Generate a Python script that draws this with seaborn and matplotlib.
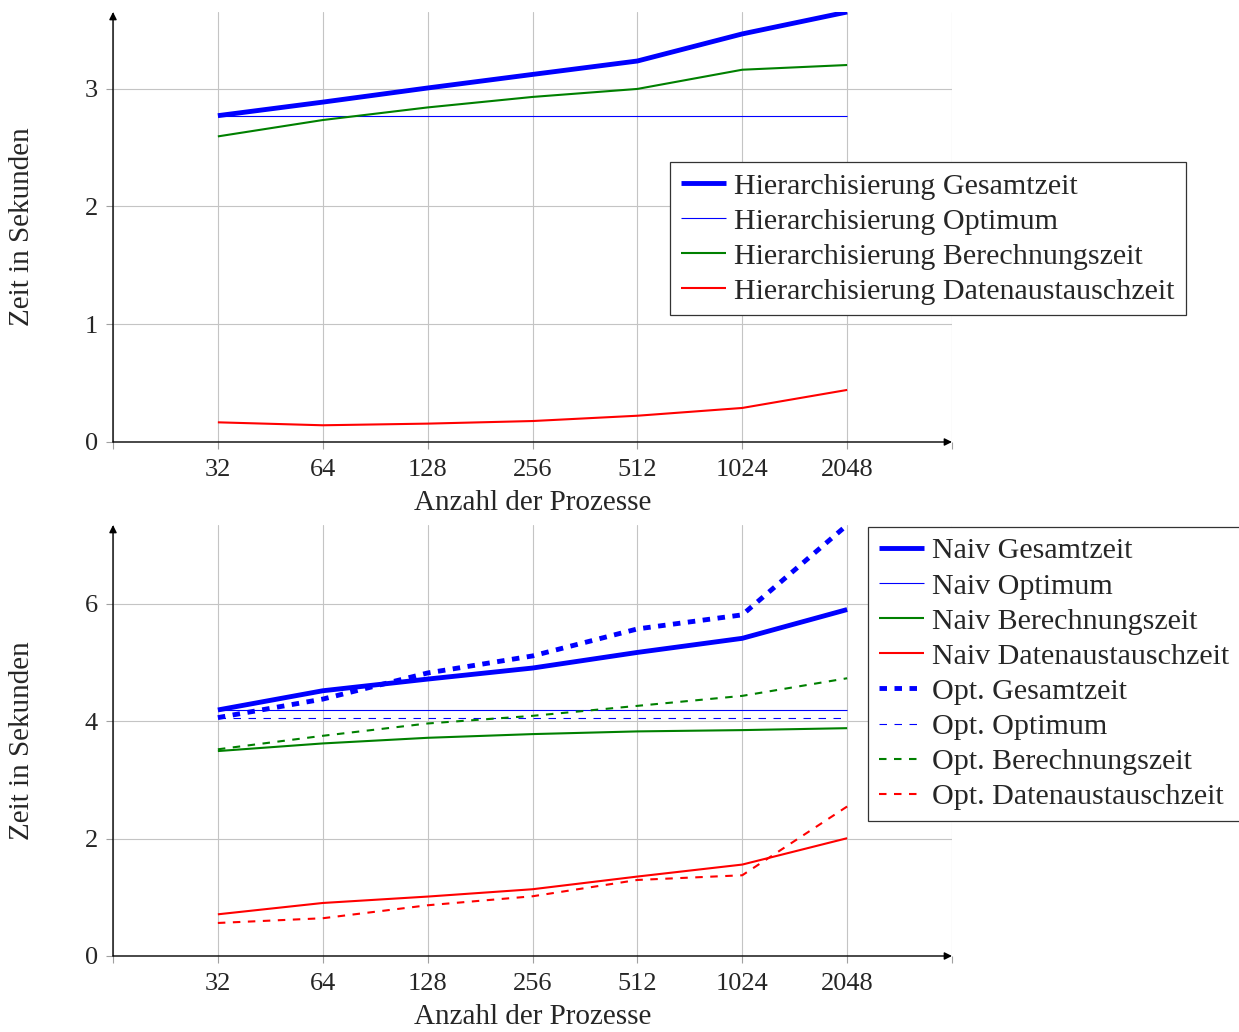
import numpy as np
import pandas as pd
import matplotlib
matplotlib.use("Agg")
import matplotlib.pyplot as plt
import seaborn as sns

# ---- data ----
procs = ["32", "64", "128", "256", "512", "1024", "2048"]

hier_ges = [2.77, 2.885, 3.005, 3.12, 3.234, 3.464, 3.65]
hier_opt = [2.77, 2.77, 2.77, 2.77, 2.77, 2.77, 2.77]
hier_ber = [2.594, 2.733, 2.84, 2.929, 2.997, 3.16, 3.20]
hier_dat = [0.167, 0.142, 0.156, 0.178, 0.223, 0.289, 0.442]

naiv_ges = [4.19, 4.517, 4.716, 4.904, 5.17, 5.41, 5.90]
naiv_opt = [4.19, 4.19, 4.19, 4.19, 4.19, 4.19, 4.19]
naiv_ber = [3.49, 3.62, 3.716, 3.779, 3.825, 3.847, 3.88]
naiv_dat = [0.71, 0.903, 1.012, 1.137, 1.353, 1.557, 2.006]
opt_ges = [4.06, 4.375, 4.82, 5.11, 5.57, 5.81, 7.34]
opt_opt = [4.057, 4.057, 4.057, 4.057, 4.057, 4.057, 4.057]
opt_ber = [3.52, 3.75, 3.96, 4.09, 4.26, 4.43, 4.73]
opt_dat = [0.5625, 0.643, 0.864, 1.017, 1.295, 1.375, 2.546]

top_ticks = [0, 1, 2, 3]
bot_ticks = [0, 2, 4, 6]

# ---- style ----
sns.set_style("white")
plt.rcParams["font.family"] = ["Liberation Serif", "DejaVu Serif"]
plt.rcParams["lines.scale_dashes"] = False
FS_TICK = 19
FS = 21
FS_LEG = 21.6

W, H = 1239, 1032
fig = plt.figure(figsize=(W / 100, H / 100), dpi=100)

def fx(px):
    return px / W

def fy(py):
    return 1 - py / H

ax1 = fig.add_axes([fx(113), fy(442), fx(952) - fx(113), fy(12) - fy(442)])
ax2 = fig.add_axes([fx(113), fy(956), fx(952) - fx(113), fy(525) - fy(956)])

xpos = np.arange(1, len(procs) + 1)

def draw(ax, vals, color, lw, label, dashed=False):
    sns.lineplot(x=xpos, y=vals, ax=ax, color=color, lw=lw, label=label,
                 sort=False, errorbar=None)
    ln = ax.lines[-1]
    ln.set_solid_capstyle("butt")
    if dashed:
        ln.set_dashes((5.4, 5.4))
        ln.set_dash_capstyle("butt")

TH, MD, TN = 3.5, 1.5, 0.8

draw(ax1, hier_ges, "#0000ff", TH, "Hierarchisierung Gesamtzeit")
draw(ax1, hier_opt, "#0000ff", TN, "Hierarchisierung Optimum")
draw(ax1, hier_ber, "#008000", MD, "Hierarchisierung Berechnungszeit")
draw(ax1, hier_dat, "#ff0000", MD, "Hierarchisierung Datenaustauschzeit")

draw(ax2, naiv_ges, "#0000ff", TH, "Naiv Gesamtzeit")
draw(ax2, naiv_opt, "#0000ff", TN, "Naiv Optimum")
draw(ax2, naiv_ber, "#008000", MD, "Naiv Berechnungszeit")
draw(ax2, naiv_dat, "#ff0000", MD, "Naiv Datenaustauschzeit")
draw(ax2, opt_ges, "#0000ff", TH, "Opt. Gesamtzeit", dashed=True)
draw(ax2, opt_opt, "#0000ff", TN, "Opt. Optimum", dashed=True)
draw(ax2, opt_ber, "#008000", MD, "Opt. Berechnungszeit", dashed=True)
draw(ax2, opt_dat, "#ff0000", MD, "Opt. Datenaustauschzeit", dashed=True)

all_top = hier_ges + hier_opt + hier_ber + hier_dat
all_bot = naiv_ges + naiv_opt + naiv_ber + naiv_dat + opt_ges + opt_opt + opt_ber + opt_dat

for ax, yt, ymax in ((ax1, top_ticks, max(all_top)), (ax2, bot_ticks, max(all_bot))):
    ax.set_xlim(0, len(procs) + 1)
    ax.set_ylim(0, ymax)
    ax.set_xticks(np.arange(0, len(procs) + 2))
    ax.set_xticklabels([""] + procs + [""], fontsize=FS_TICK)
    ax.set_yticks(yt)
    ax.set_yticklabels([str(t) for t in yt], fontsize=FS_TICK)
    ax.grid(True, color="#c4c4c4", lw=0.8)
    ax.set_axisbelow(True)
    for s in ax.spines.values():
        s.set_visible(False)
    ax.tick_params(axis="both", direction="out", length=5, width=0.8,
                   color="#a0a0a0", left=True, bottom=True)
    ax.tick_params(axis="x", pad=7)
    ax.tick_params(axis="y", pad=6)
    ax.annotate("", xy=(0, 1.0), xytext=(0, 0), xycoords="axes fraction",
                arrowprops=dict(arrowstyle="-|>", color="k", lw=1.0,
                                mutation_scale=11, shrinkA=0, shrinkB=0))
    ax.annotate("", xy=(1.0, 0), xytext=(0, 0), xycoords="axes fraction",
                arrowprops=dict(arrowstyle="-|>", color="k", lw=1.0,
                                mutation_scale=11, shrinkA=0, shrinkB=0))
    ax.set_xlabel("")
    ax.set_ylabel("")
    if ax.get_legend() is not None:
        ax.get_legend().remove()

leg_kw = dict(fontsize=FS_LEG, frameon=True, fancybox=False, framealpha=1,
              edgecolor="#333333", loc="upper left", bbox_transform=fig.transFigure,
              borderpad=0.35, labelspacing=0.27, handlelength=1.5,
              handletextpad=0.3, borderaxespad=0)
h1, l1 = ax1.get_legend_handles_labels()
lg1 = ax1.legend(h1, l1, bbox_to_anchor=(fx(670), fy(162)), **leg_kw)
h2, l2 = ax2.get_legend_handles_labels()
lg2 = ax2.legend(h2, l2, bbox_to_anchor=(fx(868), fy(527)), **leg_kw)
for lg in (lg1, lg2):
    lg.get_frame().set_linewidth(0.9)

for cy in (227, 740.5):
    fig.text(fx(22), fy(cy), "Zeit in Sekunden", rotation=90, ha="center",
             va="center", fontsize=FS)
for cy in (503, 1017):
    fig.text(fx(532.5), fy(cy), "Anzahl der Prozesse", ha="center",
             va="center", fontsize=FS)

fig.savefig("out.png", dpi=100)
